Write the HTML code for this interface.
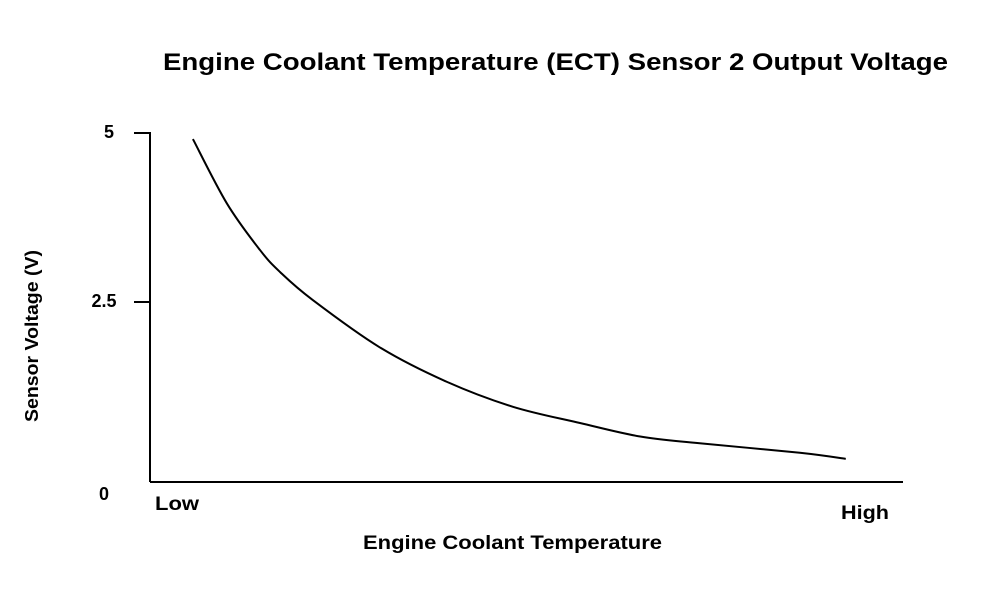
<!DOCTYPE html>
<html><head><meta charset="utf-8"><style>
html,body{margin:0;padding:0;background:#fff;}
svg{display:block;font-family:"Liberation Sans",Arial,sans-serif;font-weight:bold;}
</style></head><body>
<svg id="chart" width="992" height="590" viewBox="0 0 992 590">
<text x="163" y="70" font-size="24" textLength="785" lengthAdjust="spacingAndGlyphs">Engine Coolant Temperature (ECT) Sensor 2 Output Voltage</text>
<line x1="150" y1="132" x2="150" y2="482" stroke="#000" stroke-width="2"/>
<line x1="150" y1="482" x2="903" y2="482" stroke="#000" stroke-width="2"/>
<g id="yticks"></g>
<text x="155" y="510" font-size="19" textLength="44" lengthAdjust="spacingAndGlyphs">Low</text>
<text x="841" y="519" font-size="19" textLength="48" lengthAdjust="spacingAndGlyphs">High</text>
<text x="363" y="549" font-size="19" textLength="299" lengthAdjust="spacingAndGlyphs">Engine Coolant Temperature</text>
<text x="0" y="0" font-size="18" textLength="172" lengthAdjust="spacingAndGlyphs" transform="translate(38,422) rotate(-90)">Sensor Voltage (V)</text>
<path id="curve" fill="none" stroke="#000" stroke-width="2"/>
</svg>
<script>
const tempPct = [5.7, 10.2, 14.6, 17.3, 21.6, 30.5, 39.4, 48.2, 57.1, 65.1, 73.0, 86.3, 92.4];
const voltage = [4.91, 3.96, 3.27, 2.94, 2.53, 1.83, 1.32, 0.95, 0.71, 0.51, 0.41, 0.27, 0.18];
const yTickValues = [5, 2.5, 0];
const yTickLabels = ["5", "2.5", "0"];

function xScale(v){ return 150 + v/100*753; }
function yScale(v){ return 471 - v*67.6; }
const NS = "http://www.w3.org/2000/svg";
const g = document.getElementById('yticks');
yTickValues.forEach((v,i)=>{
  const y = yScale(v);
  if (v > 0) {
    const l = document.createElementNS(NS,'line');
    
    
    l.setAttribute('x1',134); l.setAttribute('x2',150);
    l.setAttribute('y1',y); l.setAttribute('y2',y);
    l.setAttribute('stroke','#000'); l.setAttribute('stroke-width','2');
    g.appendChild(l);
  }
  const t = document.createElementNS(NS,'text');
  
  
  t.setAttribute('x', v===0 ? 104 : (v===5 ? 109 : 104));
  t.setAttribute('y', v===0 ? 500 : y+5);
  t.setAttribute('font-size','18');
  t.setAttribute('text-anchor','middle');
  t.textContent = yTickLabels[i];
  g.appendChild(t);
});
const pts = tempPct.map((x,i)=>[xScale(x), yScale(voltage[i])]);
let d = "M"+pts[0][0]+","+pts[0][1];
for (let i=0;i<pts.length-1;i++){
  const p0 = pts[i-1]||pts[i], p1=pts[i], p2=pts[i+1], p3=pts[i+2]||pts[i+1];
  const c1x=p1[0]+(p2[0]-p0[0])/6, c1y=p1[1]+(p2[1]-p0[1])/6;
  const c2x=p2[0]-(p3[0]-p1[0])/6, c2y=p2[1]-(p3[1]-p1[1])/6;
  d += " C"+c1x+","+c1y+" "+c2x+","+c2y+" "+p2[0]+","+p2[1];
}
document.getElementById('curve').setAttribute('d', d);
</script>
</body></html>
